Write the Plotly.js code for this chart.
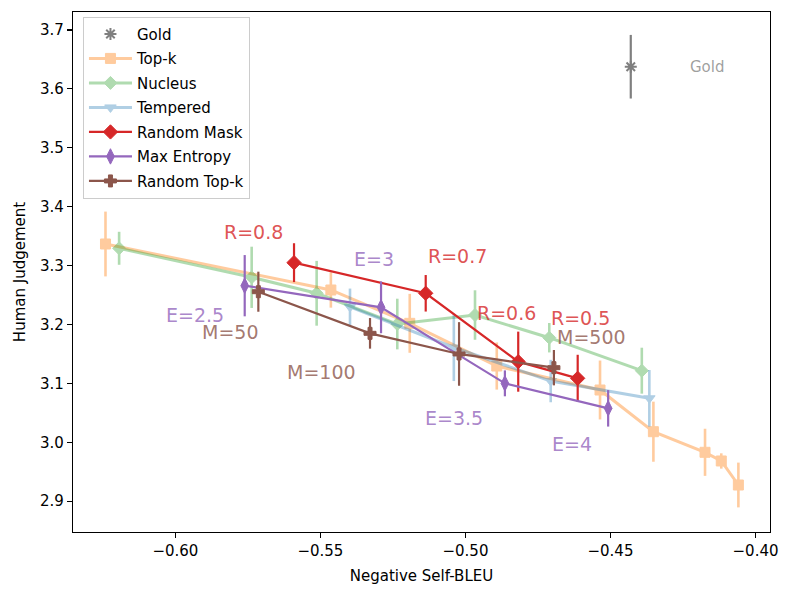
<!DOCTYPE html>
<html><head><meta charset="utf-8">
<script src="https://cdn.plot.ly/plotly-3.0.1.min.js"></script>
<style>html,body{margin:0;padding:0;background:#fff}</style>
</head><body><div id="chart" style="width:789px;height:595px"></div>
<script>
// ---- data ----
const goldX = [-0.4430], goldY = [3.6377], goldErr = [0.054];

const topkX = [-0.6241, -0.5464, -0.5192, -0.4892, -0.4536, -0.4352, -0.4174, -0.4118, -0.4059];
const topkY = [3.3367, 3.2586, 3.2020, 3.1295, 3.0888, 3.0180, 2.9830, 2.9683, 2.9275];
const topkErr = [0.055, 0.030, 0.050, 0.040, 0.050, 0.051, 0.040, 0.013, 0.038];

const nucleusX = [-0.6194, -0.5737, -0.5513, -0.5235, -0.4967, -0.4711, -0.4392];
const nucleusY = [3.3294, 3.2801, 3.2530, 3.2008, 3.2161, 3.1776, 3.1216];
const nucleusErr = [0.028, 0.052, 0.055, 0.043, 0.042, 0.025, 0.039];

const temperedX = [-0.5398, -0.5040, -0.4706, -0.4366];
const temperedY = [3.2300, 3.1610, 3.1040, 3.0747];
const temperedErr = [0.031, 0.057, 0.036, 0.048];

const maskX = [-0.5591, -0.5137, -0.4818, -0.4613];
const maskY = [3.3050, 3.2530, 3.1369, 3.1086];
const maskErr = [0.033, 0.031, 0.051, 0.040];
const maskLabels = ["R=0.8", "R=0.7", "R=0.6", "R=0.5"];

const entropyX = [-0.5761, -0.5291, -0.4864, -0.4508];
const entropyY = [3.2659, 3.2292, 3.1001, 3.0577];
const entropyErr = [0.052, 0.044, 0.022, 0.031];
const entropyLabels = ["E=2.5", "E=3", "E=3.5", "E=4"];

const rtopkX = [-0.5714, -0.5329, -0.5022, -0.4695];
const rtopkY = [3.2557, 3.1850, 3.1500, 3.1267];
const rtopkErr = [0.034, 0.026, 0.054, 0.030];
const rtopkLabels = ["M=50", "M=100", "M=500"];

// ---- label placement (layout) ----
const maskLabelPos = [[-0.5732, 3.3577], [-0.5028, 3.3163], [-0.4859, 3.2190], [-0.4604, 3.2115]];
const entropyLabelPos = [[-0.5933, 3.2161], [-0.5317, 3.3107], [-0.5038, 3.0407], [-0.4633, 2.9971]];
const rtopkLabelPos = [[-0.5810, 3.1878], [-0.5496, 3.1199], [-0.4566, 3.1780]];
const goldLabelPos = [-0.4165, 3.6377];

const C = {
  gray: '#7f7f7f', orange: '#ff7f0e', green: '#2ca02c', blue: '#1f77b4',
  red: '#d62728', purple: '#9467bd', brown: '#8c564b'
};
const FONT = 'DejaVu Sans, Liberation Sans, sans-serif';

function series(name, x, y, err, color, symbol, size, opts) {
  opts = opts || {};
  return {
    type: 'scatter', mode: opts.mode || 'lines+markers', name: name,
    x: x, y: y, legendgroup: name,
    opacity: opts.opacity == null ? 1 : opts.opacity,
    line: {color: color, width: opts.lw || 2.2},
    marker: {color: color, symbol: symbol, size: size,
             line: {color: color, width: opts.mlw == null ? 1 : opts.mlw}},
    error_y: {type: 'data', array: err, visible: true, color: color,
              thickness: opts.ew || 2.2, width: 0}
  };
}

const traces = [
  series('Gold', goldX, goldY, goldErr, C.gray, 'asterisk-open', 10, {mode: 'markers', mlw: 2, ew: 2.2}),
  series('Top-k', topkX, topkY, topkErr, C.orange, 'square', 10, {opacity: 0.4, lw: 3, ew: 2.6}),
  series('Nucleus', nucleusX, nucleusY, nucleusErr, C.green, 'diamond', 10, {opacity: 0.37, lw: 3, ew: 2.6}),
  series('Tempered', temperedX, temperedY, temperedErr, C.blue, 'triangle-down', 10, {opacity: 0.35, lw: 3, ew: 2.6}),
  series('Random Mask', maskX, maskY, maskErr, C.red, 'diamond', 11, {}),
  series('Max Entropy', entropyX, entropyY, entropyErr, C.purple, 'diamond-tall', 11, {}),
  series('Random Top-k', rtopkX, rtopkY, rtopkErr, C.brown, 'cross', 10, {})
];

function ann(text, pos, color) {
  return {x: pos[0], y: pos[1], xref: 'x', yref: 'y', text: text, showarrow: false,
          xanchor: 'center', yanchor: 'middle', font: {family: FONT, size: 19, color: color}};
}
const annotations = [];
maskLabels.forEach((t, i) => annotations.push(ann(t, maskLabelPos[i], 'rgba(214,39,40,0.8)')));
entropyLabels.forEach((t, i) => annotations.push(ann(t, entropyLabelPos[i], 'rgba(148,103,189,0.8)')));
rtopkLabels.forEach((t, i) => annotations.push(ann(t, rtopkLabelPos[i], 'rgba(140,86,75,0.8)')));
annotations.push({x: goldLabelPos[0], y: goldLabelPos[1], xref: 'x', yref: 'y', text: 'Gold',
  showarrow: false, xanchor: 'center', yanchor: 'middle',
  font: {family: FONT, size: 15, color: 'rgba(127,127,127,0.75)'}});

const axisCommon = {
  showgrid: false, zeroline: false, showline: true, mirror: true, linecolor: '#000', linewidth: 1.1,
  ticks: 'outside', ticklen: 5, tickwidth: 1.1, tickcolor: '#000',
  tickfont: {family: FONT, size: 15, color: '#000'}
};

const layout = {
  width: 789, height: 595,
  margin: {l: 73, r: 19, t: 12, b: 63},
  paper_bgcolor: '#fff', plot_bgcolor: '#fff',
  font: {family: FONT, size: 15, color: '#000'},
  showlegend: true,
  legend: {x: 0.0143, y: 0.991, xanchor: 'left', yanchor: 'top',
           bgcolor: 'rgba(255,255,255,0.8)', bordercolor: '#cccccc', borderwidth: 1,
           font: {family: FONT, size: 15, color: '#000'}, itemwidth: 43,
           tracegroupgap: 2},
  xaxis: Object.assign({}, axisCommon, {
    range: [-0.6353, -0.3950], tickmode: 'linear', tick0: -0.60, dtick: 0.05, tickformat: '.2f',
    title: {text: 'Negative Self-BLEU', font: {family: FONT, size: 15}, standoff: 11}
  }),
  yaxis: Object.assign({}, axisCommon, {
    range: [2.8477, 3.7306], tickmode: 'linear', tick0: 2.9, dtick: 0.1, tickformat: '.1f',
    title: {text: 'Human Judgement', font: {family: FONT, size: 15}, standoff: 10}
  }),
  annotations: annotations
};

Plotly.newPlot('chart', traces, layout, {displayModeBar: false, staticPlot: true});
</script>
</body></html>
